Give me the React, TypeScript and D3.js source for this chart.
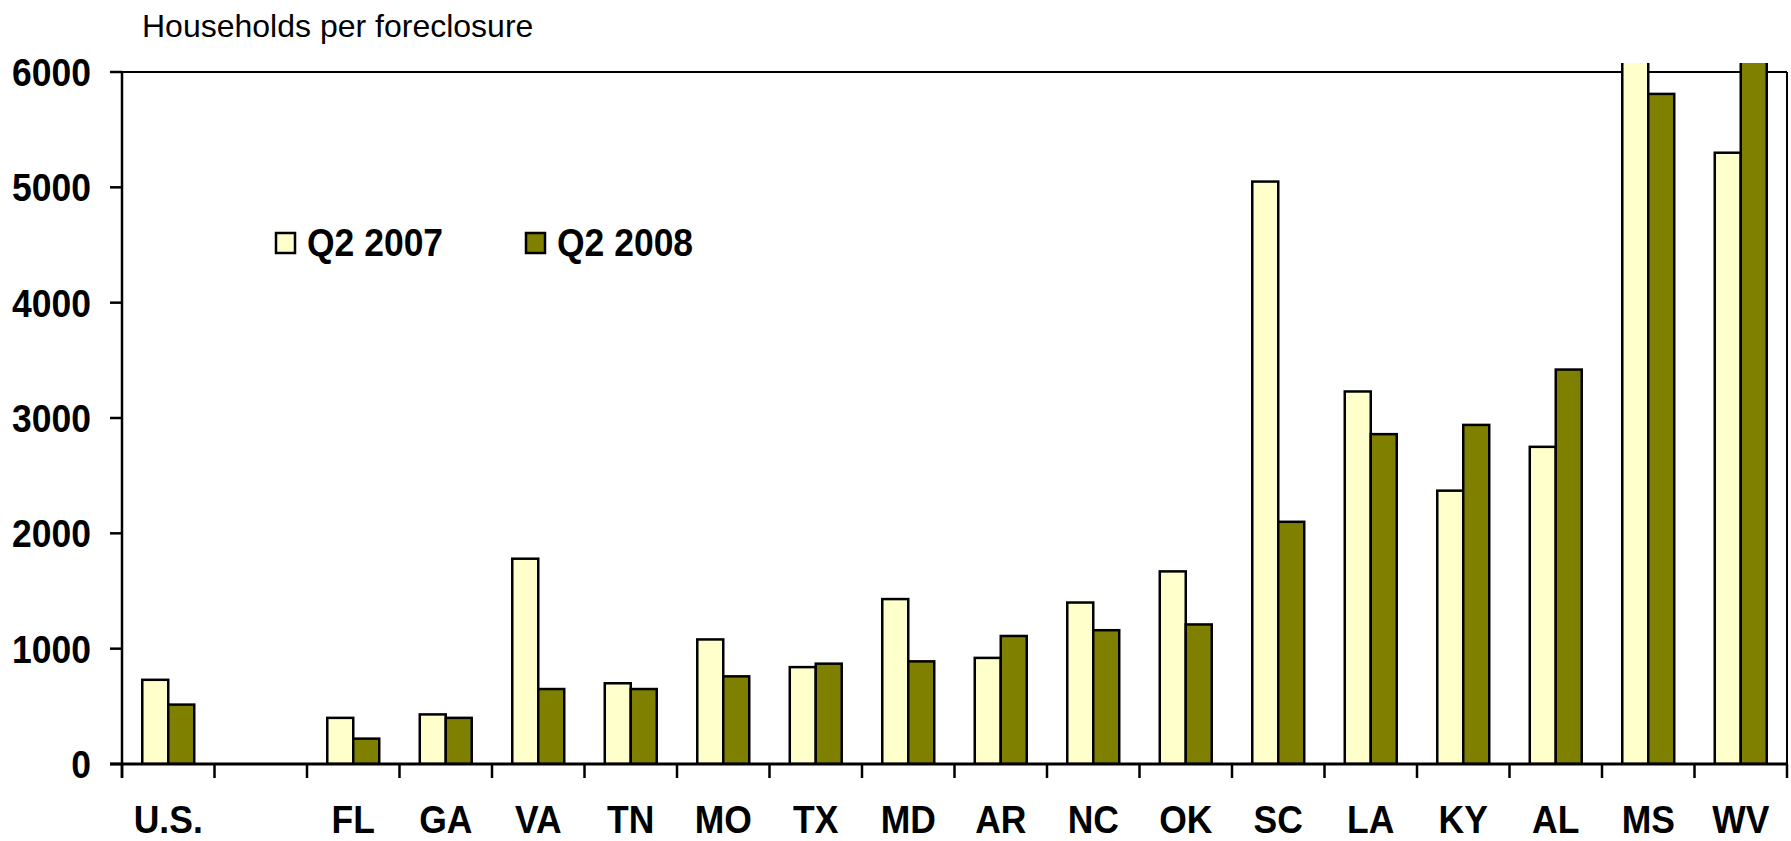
import { useRef, useEffect } from 'react'
import * as d3 from 'd3'

const categories = ['U.S.', '', 'FL', 'GA', 'VA', 'TN', 'MO', 'TX', 'MD', 'AR', 'NC', 'OK', 'SC', 'LA', 'KY', 'AL', 'MS', 'WV']
// blank slot after U.S. is an empty gap in the original; MS 2007 and WV 2008 run off the top
const q2007 = [730, null, 400, 430, 1780, 700, 1080, 840, 1430, 920, 1400, 1670, 5050, 3230, 2370, 2750, 6500, 5300]
const q2008 = [515, null, 220, 400, 650, 650, 760, 870, 890, 1110, 1160, 1210, 2100, 2860, 2940, 3420, 5810, 6500]
const yTicks = [0, 1000, 2000, 3000, 4000, 5000, 6000]
const seriesNames = ['Q2 2007', 'Q2 2008']
const colors = ['#FFFFCC', '#808000']

const FONT = 'Liberation Sans, Arial, sans-serif'

export default function App() {
  const svgRef = useRef<any>()
  const W = 1791
  const H = 841
  const margin = { top: 72, right: 4, bottom: 77, left: 122 }

  useEffect(() => {
    const svg = d3.select(svgRef.current)
    svg.selectAll('*').remove()
    const x0 = margin.left
    const x1 = W - margin.right
    const y0 = H - margin.bottom
    const y1 = margin.top

    const xScale = d3.scaleBand().domain(categories.map((_, i) => String(i))).range([x0, x1])
    const xInner = d3.scaleBand().domain(['0', '1']).range([0, xScale.bandwidth()]).paddingInner(0).paddingOuter(0.78)
    const yScale = d3.scaleLinear().domain([0, 6000]).range([y0, y1])

    svg.append('defs').append('clipPath').attr('id', 'plotclip')
      .append('rect').attr('x', x0).attr('y', y1 - 9).attr('width', x1 - x0).attr('height', y0 - y1 + 9)

    // frame: top line and right line
    svg.append('line').attr('x1', x0).attr('x2', x1).attr('y1', y1).attr('y2', y1)
      .attr('stroke', '#000').attr('stroke-width', 2)
    svg.append('line').attr('x1', x1).attr('x2', x1).attr('y1', y1).attr('y2', y0)
      .attr('stroke', '#000').attr('stroke-width', 2)

    const seriesData = [q2007, q2008]
    const g = svg.append('g').attr('clip-path', 'url(#plotclip)')
    seriesData.forEach((vals, s) => {
      g.selectAll('rect.s' + s)
        .data(vals.map((v, i) => ({ v, i })).filter((d) => d.v != null))
        .enter()
        .append('rect')
        .attr('x', (d) => xScale(String(d.i)) + xInner(String(s)))
        .attr('y', (d) => yScale(d.v))
        .attr('width', xInner.bandwidth())
        .attr('height', (d) => y0 - yScale(d.v))
        .attr('fill', colors[s])
        .attr('stroke', '#000')
        .attr('stroke-width', 2.5)
    })

    // y axis
    const ya = svg.append('g')
    ya.append('line').attr('x1', x0).attr('x2', x0).attr('y1', y1).attr('y2', y0 + 14)
      .attr('stroke', '#000').attr('stroke-width', 2.5)
    ya.selectAll('line.tk').data(yTicks).enter().append('line')
      .attr('x1', x0 - 12).attr('x2', x0).attr('y1', (d) => yScale(d)).attr('y2', (d) => yScale(d))
      .attr('stroke', '#000').attr('stroke-width', 2.5)
    ya.selectAll('text').data(yTicks).enter().append('text')
      .attr('transform', (d) => `translate(91,${yScale(d)}) scale(0.91,1)`)
      .attr('dy', '0.36em')
      .attr('text-anchor', 'end')
      .attr('font-family', FONT).attr('font-weight', 'bold').attr('font-size', 39)
      .text((d) => d3.format('d')(d))

    // x axis
    const xa = svg.append('g').attr('transform', `translate(0,${y0})`)
    xa.append('line').attr('x1', x0 - 12).attr('x2', x1).attr('stroke', '#000').attr('stroke-width', 3)
    const bounds = d3.range(categories.length + 1).map((i) => x0 + i * xScale.step())
    xa.selectAll('line.tk').data(bounds).enter().append('line')
      .attr('x1', (d) => d).attr('x2', (d) => d).attr('y1', 0).attr('y2', 14)
      .attr('stroke', '#000').attr('stroke-width', 2.5)
    xa.selectAll('text').data(categories).enter().append('text')
      .attr('transform', (_, i) => `translate(${xScale(String(i)) + xScale.bandwidth() / 2},69) scale(0.91,0.98)`)
      .attr('text-anchor', 'middle')
      .attr('font-family', FONT)
      .attr('font-weight', 'bold').attr('font-size', 39)
      .text((d) => d)

    // title
    svg.append('text').attr('x', 142).attr('y', 37)
      .attr('font-family', FONT).attr('font-size', 32)
      .text('Households per foreclosure')

    // legend
    const lg = svg.append('g').attr('transform', 'translate(276,233)')
    seriesNames.forEach((name, i) => {
      const item = lg.append('g').attr('transform', `translate(${i * 250},0)`)
      item.append('rect').attr('width', 19).attr('height', 20).attr('fill', colors[i])
        .attr('stroke', '#000').attr('stroke-width', 2.5)
      item.append('text').attr('transform', 'translate(31,23) scale(0.91,1)')
        .attr('font-family', FONT)
        .attr('font-weight', 'bold').attr('font-size', 39).text(name)
    })
  }, [])

  return (
    <svg ref={svgRef} width={W} height={H}
      style={{ position: 'absolute', left: 0, top: 0, background: '#fff' }}></svg>
  )
}
